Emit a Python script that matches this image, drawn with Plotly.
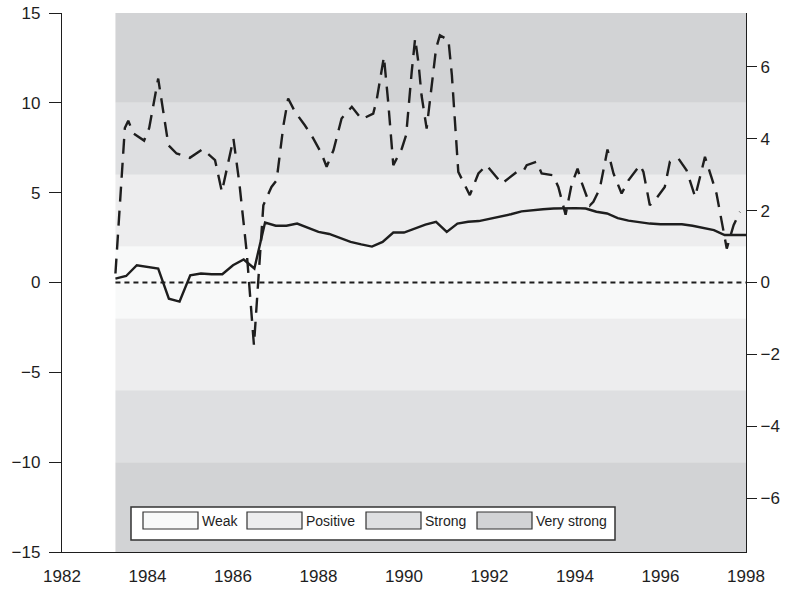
import plotly.graph_objects as go

# Shaded strength bands (left-axis units, symmetric about zero)
band_names = ["Weak", "Positive", "Strong", "Very strong"]
band_colors = ["#f8f9f9", "#ededee", "#dedfe1", "#d2d3d5"]
band_edges = [0, 2, 6, 10, 15]
band_start, band_end = 1983.25, 1998.0

# Quarterly series plotted against the right axis
quarters = [1983.25 + 0.25 * i for i in range(60)]
solid_vals = [
    0.11, 0.18, 0.48, 0.44, 0.39, -0.45, -0.53, 0.20, 0.25, 0.23,
    0.23, 0.48, 0.64, 0.39, 1.67, 1.58, 1.58, 1.64, 1.53, 1.41,
    1.35, 1.25, 1.13, 1.06, 1.00, 1.13, 1.39, 1.39, 1.50, 1.61,
    1.69, 1.41, 1.64, 1.69, 1.71, 1.77, 1.85, 1.90, 1.98, 2.02,
    2.04, 2.06, 2.07, 2.07, 2.06, 1.97, 1.92, 1.79, 1.72, 1.67,
    1.64, 1.62, 1.62, 1.62, 1.58, 1.53, 1.46, 1.32, 1.32, 1.32,
]

# Higher-frequency series plotted against the left axis
dashed_x = [
    1983.25, 1983.47, 1983.55, 1983.67, 1983.92, 1984.04, 1984.25, 1984.49,
    1984.68, 1984.99, 1985.29, 1985.58, 1985.74, 1985.97, 1986.01, 1986.15,
    1986.32, 1986.49, 1986.71, 1986.90, 1987.02, 1987.18, 1987.29, 1987.45,
    1987.68, 1987.88, 1988.07, 1988.19, 1988.35, 1988.54, 1988.78, 1989.01,
    1989.28, 1989.36, 1989.53, 1989.63, 1989.75, 1989.95, 1990.05, 1990.18,
    1990.26, 1990.34, 1990.41, 1990.53, 1990.65, 1990.75, 1990.84, 1991.04,
    1991.12, 1991.27, 1991.54, 1991.74, 1991.93, 1992.29, 1992.64, 1992.79,
    1992.87, 1993.10, 1993.22, 1993.49, 1993.61, 1993.78, 1993.92, 1994.06,
    1994.15, 1994.35, 1994.43, 1994.58, 1994.76, 1994.90, 1995.09, 1995.25,
    1995.52, 1995.60, 1995.75, 1995.90, 1996.10, 1996.22, 1996.42, 1996.61,
    1996.81, 1996.92, 1997.04, 1997.20, 1997.31, 1997.55, 1997.71, 1997.86,
]
dashed_y = [
    0.5, 8.6, 9.0, 8.3, 7.9, 8.6, 11.35, 7.64,
    7.18, 6.94, 7.42, 6.81, 5.05, 7.46, 8.01, 5.5,
    1.71, -3.49, 4.3, 5.32, 5.69, 8.75, 10.24, 9.5,
    8.75, 8.01, 7.18, 6.44, 7.36, 9.13, 9.78, 9.09,
    9.4, 10.15, 12.56, 10.06, 6.53, 7.46, 8.2, 11.72,
    13.58, 12.19, 10.42, 8.57, 11.17, 13.02, 13.76, 13.49,
    11.54, 6.16, 4.86, 6.07, 6.53, 5.51, 6.16, 6.19,
    6.53, 6.72, 6.07, 5.97, 5.32, 3.77, 5.45, 6.34,
    5.6, 4.3, 4.49, 5.23, 7.4, 6.07, 4.95, 5.69,
    6.53, 6.16, 4.3, 4.67, 5.32, 6.72, 6.9, 6.25,
    4.77, 5.79, 6.99, 5.79, 4.95, 1.89, 3.19, 3.93,
]

left_ticks = [-15, -10, -5, 0, 5, 10, 15]
right_ticks = [-6, -4, -2, 0, 2, 4, 6]
year_ticks = list(range(1982, 1999, 2))

FONT = "Liberation Sans, Arial, sans-serif"
INK = "#1e1e1e"

fig = go.Figure()

# Strength bands
shapes = []
for i, color in enumerate(band_colors):
    lo, hi = band_edges[i], band_edges[i + 1]
    spans = [(-hi, hi)] if i == 0 else [(lo, hi), (-hi, -lo)]
    for y0, y1 in spans:
        shapes.append(dict(type="rect", xref="x", yref="y", x0=band_start, x1=band_end,
                           y0=y0, y1=y1, fillcolor=color, line_width=0, layer="below"))

# Zero reference line
fig.add_trace(go.Scatter(x=[band_start, band_end], y=[0, 0], mode="lines",
                         line=dict(color=INK, width=2.2, dash="5px,4px"),
                         hoverinfo="skip", showlegend=False))

fig.add_trace(go.Scatter(x=dashed_x, y=dashed_y, mode="lines",
                         line=dict(color=INK, width=2.4, dash="15px,9px"),
                         showlegend=False, yaxis="y"))

fig.add_trace(go.Scatter(x=quarters, y=solid_vals, mode="lines",
                         line=dict(color=INK, width=2.4),
                         showlegend=False, yaxis="y2"))

# Legend box drawn in paper coordinates
def px_x(p):
    return (p - 62) / 684.0


def px_y(p):
    return (552 - p) / 539.0


annotations = []
shapes.append(dict(type="rect", xref="paper", yref="paper",
                   x0=px_x(131), x1=px_x(615), y0=px_y(540), y1=px_y(507),
                   fillcolor="white", line=dict(color="#333333", width=1.5), layer="above"))
swatch_left = [143, 247, 366, 477]
for name, color, sx in zip(band_names, band_colors, swatch_left):
    shapes.append(dict(type="rect", xref="paper", yref="paper",
                       x0=px_x(sx), x1=px_x(sx + 55), y0=px_y(529), y1=px_y(512),
                       fillcolor=color, line=dict(color="#333333", width=1.2), layer="above"))
    annotations.append(dict(x=px_x(sx + 57), y=px_y(520.5), xref="paper", yref="paper",
                            text=name, showarrow=False, xanchor="left", yanchor="middle",
                            font=dict(family=FONT, size=14, color=INK)))

fig.update_layout(
    width=794, height=589,
    margin=dict(l=62, r=48, t=13, b=37),
    paper_bgcolor="white", plot_bgcolor="white",
    shapes=shapes, annotations=annotations,
    font=dict(family=FONT, size=17, color=INK),
    xaxis=dict(range=[1982, 1998], tickvals=year_ticks, ticks="", showgrid=False,
               zeroline=False, showline=True, linecolor=INK, linewidth=1.3,
               tickfont=dict(size=17), ticklabelstandoff=8, automargin=False),
    yaxis=dict(range=[-15, 15], tickvals=left_ticks, ticks="outside", ticklen=12,
               tickcolor=INK, tickwidth=1.2, showgrid=False, zeroline=False,
               showline=True, linecolor=INK, linewidth=1.3, tickfont=dict(size=17),
               ticklabelstandoff=5, automargin=False),
    yaxis2=dict(range=[-7.5, 7.5], tickvals=right_ticks, overlaying="y", side="right",
                ticks="outside", ticklen=10, tickcolor=INK, tickwidth=1.2,
                showgrid=False, zeroline=False, showline=True, linecolor=INK,
                linewidth=1.3, tickfont=dict(size=17), automargin=False),
)

fig.write_html("out.html")
